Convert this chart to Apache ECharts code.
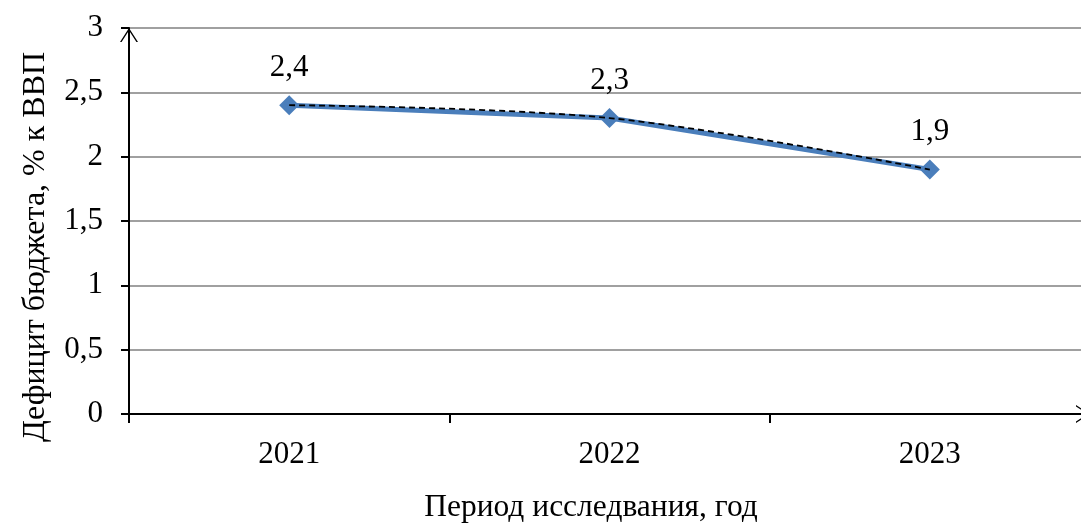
<!DOCTYPE html>
<html>
<head>
<meta charset="utf-8">
<script src="https://cdn.jsdelivr.net/npm/echarts@6/dist/echarts.min.js"></script>
<style>
html,body{margin:0;padding:0;background:#fff;}
#chart{width:1081px;height:523px;}
</style>
</head>
<body>
<div id="chart"></div>
<script>
const categories = ['2021', '2022', '2023'];
const deficit = [2.4, 2.3, 1.9];
const yTicks = [0, 0.5, 1, 1.5, 2, 2.5, 3];

const fontFam = '"Liberation Serif", "DejaVu Serif", serif';
const fmt = v => String(v).replace('.', ',');
const chevron = 'path://M0,14 L9,0 L18,14 L16.4,14 L9,2.6 L1.6,14 Z';

const chart = echarts.init(document.getElementById('chart'), null, {renderer: 'canvas'});
chart.setOption({
  animation: false,
  backgroundColor: '#ffffff',
  grid: {left: 129, width: 961, top: 28, height: 386, containLabel: false, outerBoundsMode: 'none'},
  xAxis: {
    type: 'category',
    data: categories,
    boundaryGap: true,
    name: 'Период исследвания, год',
    nameLocation: 'middle',
    nameGap: 78,
    nameTextStyle: {fontFamily: fontFam, fontSize: 31.5, color: '#000', padding: [0, 37, 0, 0]},
    axisLine: {show: true, lineStyle: {color: '#000', width: 2}, symbol: ['none', chevron], symbolSize: [18, 14], symbolOffset: [0, -7]},
    axisTick: {show: true, inside: false, length: 9, alignWithLabel: false, lineStyle: {color: '#000', width: 2}},
    axisLabel: {fontFamily: fontFam, fontSize: 31, color: '#000', margin: 25},
    splitLine: {show: false}
  },
  yAxis: {
    type: 'value',
    min: yTicks[0],
    max: yTicks[yTicks.length - 1],
    interval: 0.5,
    name: 'Дефицит бюджета, % к ВВП',
    nameLocation: 'middle',
    nameGap: 77,
    nameTextStyle: {fontFamily: fontFam, fontSize: 32, color: '#000', padding: [0, 52, 0, 0]},
    axisLine: {show: true, lineStyle: {color: '#000', width: 2}, symbol: ['none', chevron], symbolSize: [18, 14], symbolOffset: [0, -7]},
    axisTick: {show: true, inside: false, length: 8, lineStyle: {color: '#000', width: 2}},
    axisLabel: {fontFamily: fontFam, fontSize: 31, color: '#000', margin: 26, formatter: v => fmt(v)},
    splitLine: {show: true, lineStyle: {color: '#a0a0a0', width: 2}}
  },
  series: [
    {
      type: 'line',
      data: deficit,
      smooth: false,
      symbol: 'diamond',
      symbolSize: 20,
      z: 2,
      lineStyle: {color: '#4a7ebb', width: 5},
      itemStyle: {color: '#4a7ebb'},
      label: {show: true, position: 'top', distance: 12, fontFamily: fontFam, fontSize: 31, color: '#000', formatter: p => fmt(p.value)}
    },
    {
      type: 'line',
      data: deficit,
      smooth: 0.35,
      symbol: 'none',
      z: 3,
      lineStyle: {color: '#000', width: 1.8, type: [6, 4]},
      silent: true
    }
  ]
});
</script>
</body>
</html>
